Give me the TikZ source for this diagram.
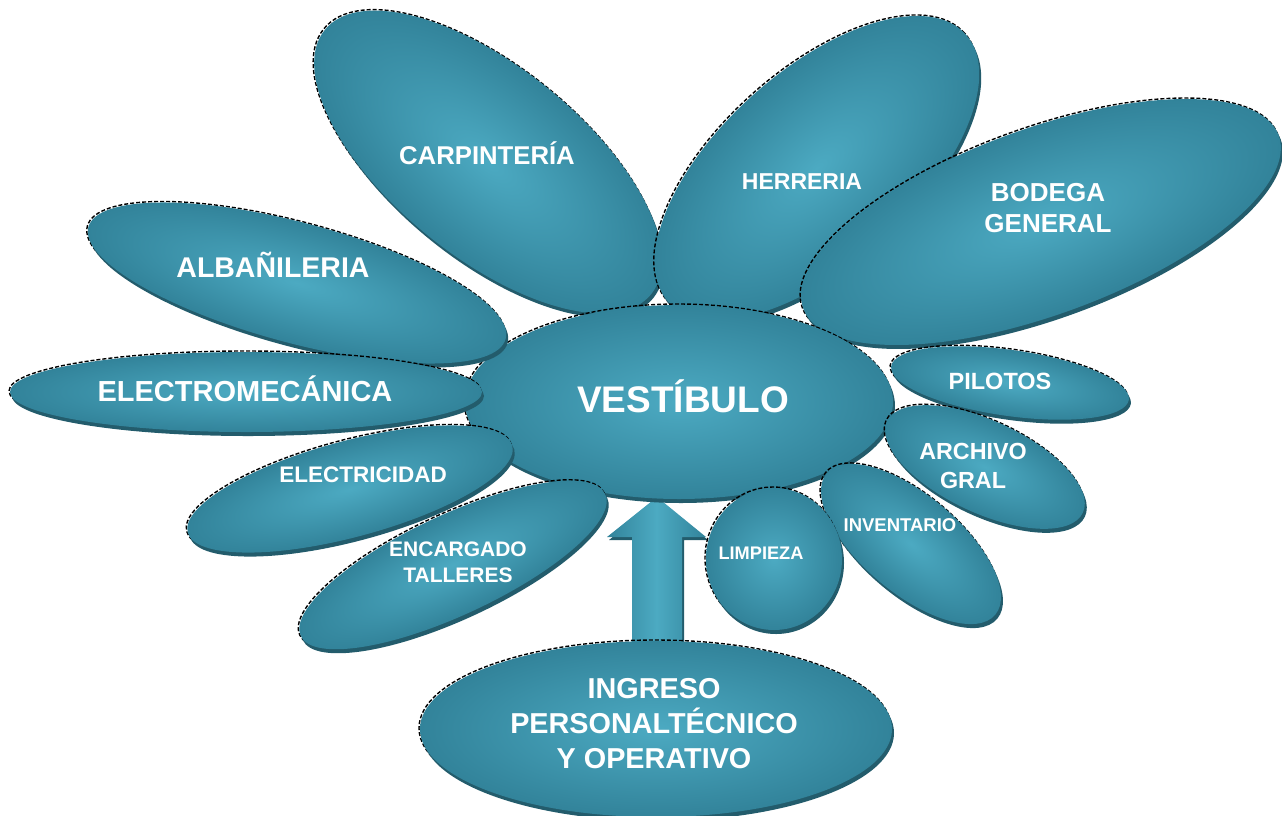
\documentclass[tikz,border=0pt]{standalone}
\usepackage{fontspec}
\setmainfont{Liberation Sans}
\definecolor{pin}{HTML}{4CAAC2}
\definecolor{pout}{HTML}{32839A}
\definecolor{plip}{HTML}{235C6C}
\tikzset{
  lbl/.style={text=white, font=\bfseries, align=center, inner sep=0pt},
  petalfill/.style={inner color=pin, outer color=pout},
  petaledge/.style={black, line width=1.4pt, dash pattern=on 4pt off 2pt},
}
% x y a b angle
\newcommand{\petalshape}[5]{%
  \begin{scope}[transform canvas={shift={(#1-1,#2-1)},rotate=#5}]
    \draw[petaledge] (0,0) ellipse [x radius=#3pt, y radius=#4pt];
  \end{scope}
  \begin{scope}[transform canvas={shift={(#1+2,#2+4)},rotate=#5}]
    \fill[plip] (0,0) ellipse [x radius=#3pt, y radius=#4pt];
  \end{scope}
  \begin{scope}[transform canvas={shift={(#1,#2)},rotate=#5}]
    \shade[petalfill] (0,0) ellipse [x radius=#3pt, y radius=#4pt];
  \end{scope}}
\newcommand{\fs}[2]{\fontsize{#1}{#2}\selectfont}
\begin{document}
\begin{tikzpicture}[x=1pt,y=-1pt]
\useasboundingbox (0,0) rectangle (1282,815);
\clip (0,0) rectangle (1282,815);
\fill[white] (0,0) rectangle (1282,815);
% petals behind the centre
\petalshape{488}{162}{210}{95}{-39}
\petalshape{817}{168}{200}{97}{42}
\petalshape{1041}{222}{253}{93}{20}
% arrow
\coordinate (abase) at (657,645);
\coordinate (atip) at (657,497);
\fill[plip] ([shift={(-25+2,0)}]abase) -- ([shift={(-25+2,40+3)}]atip) -- ([shift={(-50+2,40+3)}]atip)
  -- ([shift={(2,3)}]atip) -- ([shift={(49+2,40+3)}]atip) -- ([shift={(25+2,40+3)}]atip) -- ([shift={(25+2,0)}]abase) -- cycle;
\shade[left color=pout, right color=pout, middle color=pin]
  ([shift={(-25,0)}]abase) -- ([shift={(-25,40)}]atip) -- ([shift={(-50,40)}]atip)
  -- (atip) -- ([shift={(49,40)}]atip) -- ([shift={(25,40)}]atip) -- ([shift={(25,0)}]abase) -- cycle;
% centre
\petalshape{679}{402}{214}{97}{0}
% front petals
\petalshape{297}{283}{216}{60}{-15}
\petalshape{246}{392}{236}{40}{0}
\petalshape{350}{489}{168}{48}{15}
\petalshape{453}{565}{168}{50}{25}
\petalshape{1010}{383}{120}{33}{-8}
\petalshape{985}{467}{108}{46}{-25}
\petalshape{911}{544}{110}{49}{-40}
\petalshape{774}{559}{68}{71}{0}
\petalshape{656}{729}{236}{88}{0}
% labels
\node[lbl, font=\bfseries\fs{37}{44}] (vest) at (683,396) {VESTÍBULO};
\node[lbl, font=\bfseries\fs{25.7}{31}] (carp) at (487,153) {CARPINTERÍA};
\node[lbl, font=\bfseries\fs{23}{28}] (herr) at (802,182) {HERRERIA};
\node[lbl, font=\bfseries\fs{26}{31}] (bode) at (1048,208) {BODEGA\\GENERAL};
\node[lbl, font=\bfseries\fs{28.5}{34}] (alba) at (273,265) {ALBAÑILERIA};
\node[lbl, font=\bfseries\fs{29}{34}] (elme) at (245,389) {ELECTROMECÁNICA};
\node[lbl, font=\bfseries\fs{22.5}{27}] (elec) at (363,475) {ELECTRICIDAD};
\node[lbl, font=\bfseries\fs{21}{26}] (enca) at (458,562) {ENCARGADO\\TALLERES};
\node[lbl, font=\bfseries\fs{23.5}{28}] (pilo) at (1000,381) {PILOTOS};
\node[lbl, font=\bfseries\fs{23.3}{29}] (arch) at (973,466) {ARCHIVO\\GRAL};
\node[lbl, font=\bfseries\fs{18.5}{22}] (inve) at (900,525) {INVENTARIO};
\node[lbl, font=\bfseries\fs{18.2}{22}] (limp) at (761,553) {LIMPIEZA};
\node[lbl, font=\bfseries\fs{28.8}{35}] (ingr) at (654,724) {INGRESO\\PERSONALTÉCNICO\\Y OPERATIVO};
\end{tikzpicture}
\end{document}
